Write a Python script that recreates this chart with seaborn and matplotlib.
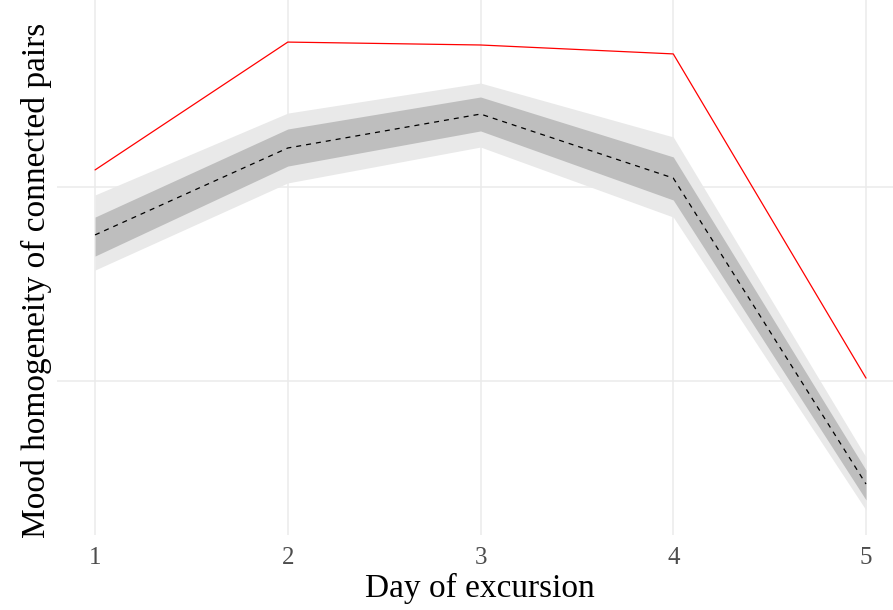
import matplotlib
matplotlib.use("Agg")
import matplotlib.pyplot as plt
import seaborn as sns

# ==========================================
# DATA
# ==========================================

days = [1, 2, 3, 4, 5]

observed = [0.2088, 0.2747, 0.2732, 0.2686, 0.1015]

null_mean = [0.1753, 0.2201, 0.2376, 0.2046, 0.0469]
inner_low = [0.1644, 0.2108, 0.2289, 0.1933, 0.0387]
inner_high = [0.1845, 0.2299, 0.2464, 0.2155, 0.0541]
outer_low = [0.1572, 0.2021, 0.2206, 0.1845, 0.0335]
outer_high = [0.1959, 0.2381, 0.2536, 0.2258, 0.0608]

# ==========================================
# STYLE
# ==========================================

sns.set_theme(style="whitegrid")
plt.rcParams["font.family"] = ["Liberation Serif", "DejaVu Serif"]

fig = plt.figure(figsize=(8.93, 6.10), dpi=100)
ax = fig.add_axes([56.5 / 893, 75 / 610, 1 - 56.5 / 893, 535 / 610])

# ==========================================
# PLOT
# ==========================================

ax.fill_between(days, outer_low, outer_high, color="#e9e9e9", linewidth=0, zorder=2)
ax.fill_between(days, inner_low, inner_high, color="#bebebe", linewidth=0, zorder=3)

sns.lineplot(x=days, y=null_mean, color="black", linewidth=0.9, ax=ax, zorder=4)
ax.lines[-1].set_dashes((4, 4))

sns.lineplot(x=days, y=observed, color="red", linewidth=0.9, ax=ax, zorder=5)

ax.set_xlim(0.8, 5 + 27 / 192.75)
ax.set_ylim(0.2 - 348 / 1940, 0.2 + 187 / 1940)

ax.set_xticks(days)
ax.set_xticklabels([str(d) for d in days])
ax.set_yticks([0.1, 0.2])
ax.set_yticklabels([])

ax.grid(True, color="#ebebeb", linewidth=1.1)
for side in ax.spines.values():
    side.set_visible(False)
ax.tick_params(axis="both", length=0)
ax.tick_params(axis="x", labelsize=18, labelcolor="#4d4d4d", pad=9)

ax.set_xlabel("Day of excursion", fontsize=24, color="black")
ax.xaxis.set_label_coords((480 - 56.5) / 836.5, -(573 - 535) / 535)
ax.set_ylabel("Mood homogeneity of connected pairs", fontsize=24, color="black")
ax.yaxis.set_label_coords((52 - 56.5) / 836.5, 1 - 280 / 535)

plt.savefig("out.png", dpi=100)
